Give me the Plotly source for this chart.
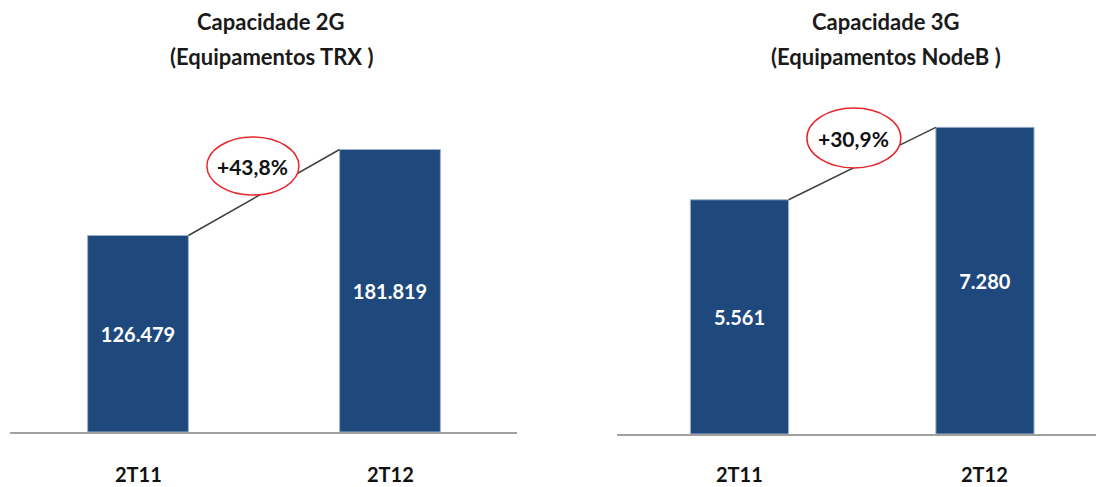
import plotly.graph_objects as go

# ---- data ----
categories = ["2T11", "2T12"]
trx_values = [126479, 181819]
nodeb_values = [5561, 7280]
titles_2g = ["Capacidade 2G", "(Equipamentos TRX )"]
titles_3g = ["Capacidade 3G", "(Equipamentos NodeB )"]

BAR_COLOR = "#1F497D"
FONT = "Lato"
BAR_W = 0.4
idx = list(range(len(categories)))

# page body has an 8px margin, so the figure is drawn 8px in from the top-left
OFF = 8
W, H = 1104 - OFF, 487 - OFF


def px(x):
    return (x - OFF) / W


def py(y):
    return 1 - (y - OFF) / H


def growth_text(vals):
    g = (vals[1] / vals[0] - 1) * 100
    return "+" + f"{g:.1f}".replace(".", ",") + "%"


fig = go.Figure()

panels = [
    dict(vals=trx_values, xa="x", ya="y"),
    dict(vals=nodeb_values, xa="x2", ya="y2"),
]
for p in panels:
    fig.add_trace(go.Bar(
        x=idx, y=p["vals"], width=BAR_W,
        marker=dict(color=BAR_COLOR, line=dict(color="#9FB2CF", width=1)),
        texttemplate="%{y:,.0f}", textposition="inside", insidetextanchor="middle",
        textfont=dict(family=FONT, size=20, color="white", weight="bold"),
        xaxis=p["xa"], yaxis=p["ya"], showlegend=False, hoverinfo="skip",
    ))
    # connector from top-right of first bar to top-left of second bar
    fig.add_trace(go.Scatter(
        x=[idx[0] + BAR_W / 2, idx[1] - BAR_W / 2], y=p["vals"],
        mode="lines", line=dict(color="#404040", width=1.5),
        xaxis=p["xa"], yaxis=p["ya"], showlegend=False, hoverinfo="skip",
    ))

axis_common = dict(
    tickmode="array", tickvals=idx, ticktext=["", ""],
    showgrid=False, zeroline=False, showline=True, linecolor="#A0A0A0", linewidth=2,
    ticks="", automargin=False,
)

fig.update_layout(
    width=W, height=H,
    margin=dict(l=0, r=0, t=0, b=0, autoexpand=False),
    paper_bgcolor="white", plot_bgcolor="white",
    separators=",.",
    xaxis=dict(domain=[px(10), px(517)], range=[-0.508, 1.504], **axis_common),
    yaxis=dict(domain=[py(432), 1], range=[0, 272900], visible=False, automargin=False),
    xaxis2=dict(domain=[px(617), 1.0], range=[-0.499, 1.485], anchor="y2", **axis_common),
    yaxis2=dict(domain=[py(434), 1], range=[0, 10112], visible=False, anchor="x2", automargin=False),
)

# category labels under each bar
for xa in ["x", "x2"]:
    for i, c in zip(idx, categories):
        fig.add_annotation(
            xref=xa, yref="paper", x=i, y=py(474), text=c, showarrow=False,
            xanchor="center", yanchor="middle",
            font=dict(family=FONT, size=20, color="#111111", weight="bold"),
        )

# growth ellipses + labels
bubbles = [
    dict(xref="x", yref="y", x=0.456, y=171200, w=92, h=58, vals=trx_values),
    dict(xref="x2", yref="y2", x=0.466, y=7026, w=94, h=60, vals=nodeb_values),
]
for b in bubbles:
    fig.add_shape(
        type="circle", xref=b["xref"], yref=b["yref"],
        xsizemode="pixel", ysizemode="pixel", xanchor=b["x"], yanchor=b["y"],
        x0=-b["w"] / 2, x1=b["w"] / 2, y0=-b["h"] / 2, y1=b["h"] / 2,
        line=dict(color="#E8262B", width=1.5), fillcolor="white", layer="above",
    )
    fig.add_annotation(
        xref=b["xref"], yref=b["yref"], x=b["x"], y=b["y"],
        text=growth_text(b["vals"]), showarrow=False,
        font=dict(family=FONT, size=21, color="#111111", weight="bold"),
    )

# titles
for cx, lines in [(271, titles_2g), (886, titles_3g)]:
    for i, t in enumerate(lines):
        fig.add_annotation(
            xref="paper", yref="paper", x=px(cx), y=py(22 + 35 * i),
            text=t, showarrow=False, xanchor="center", yanchor="middle",
            font=dict(family=FONT, size=22, color="#1a1a1a", weight="bold"),
        )

fig.write_html("out.html")
